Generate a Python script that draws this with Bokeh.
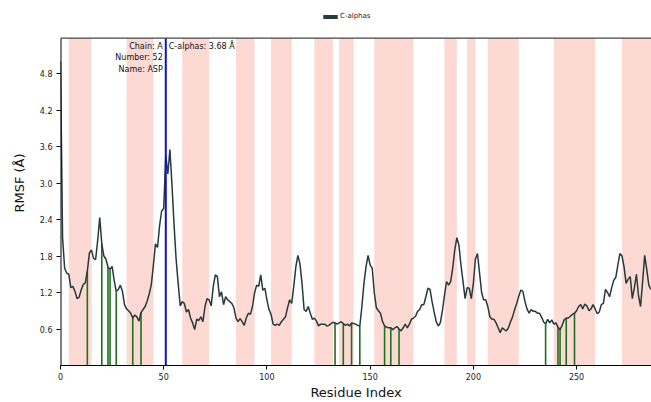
from bokeh.plotting import figure
from bokeh.models import (Range1d, FixedTicker, Label, Legend, LegendItem,
                          PrintfTickFormatter)
from bokeh.embed import file_html
from bokeh.resources import INLINE

# RMSF of C-alphas per residue index (Å)
rmsf = [
    5.0, 2.1, 1.6, 1.52, 1.5, 1.28, 1.3, 1.22, 1.1, 1.12,
    1.24, 1.33, 1.36, 1.55, 1.85, 1.9, 1.76, 1.74, 2.05, 2.43,
    2.0, 1.8, 1.75, 1.62, 1.58, 1.63, 1.4, 1.22, 1.25, 1.32,
    1.22, 1.0, 0.93, 0.9, 0.86, 0.78, 0.83, 0.8, 0.73, 0.87,
    0.92, 0.97, 1.06, 1.18, 1.33, 1.65, 2.0, 1.94, 2.3, 2.54,
    2.58, 3.45, 3.15, 3.55, 2.97, 2.32, 1.75, 1.35, 0.98, 1.05,
    1.02, 0.88, 0.92, 0.78, 0.70, 0.59, 0.76, 0.74, 0.8, 0.72,
    0.97, 1.1, 1.08, 0.98, 1.3, 1.49, 1.46, 1.13, 1.21, 1.0,
    1.13, 1.08, 1.05, 1.02, 0.95, 0.78, 0.72, 0.77, 0.72, 0.66,
    0.78, 0.86, 0.84, 0.97, 1.19, 1.32, 1.3, 1.49, 1.24, 1.27,
    1.08, 0.92, 0.84, 0.68, 0.66, 0.68, 0.66, 0.72, 0.76, 0.8,
    0.95, 1.08, 1.02, 1.3, 1.62, 1.81, 1.67, 1.35, 0.92, 0.89,
    0.97, 0.86, 0.76, 0.78, 0.73, 0.65, 0.68, 0.68, 0.68, 0.65,
    0.66, 0.69, 0.71, 0.7, 0.68, 0.7, 0.72, 0.69, 0.66, 0.68,
    0.65, 0.7, 0.69, 0.68, 0.66, 0.65, 0.97, 1.35, 1.62, 1.81,
    1.65, 1.6, 1.2, 0.95, 0.9, 0.86, 0.72, 0.65, 0.63, 0.62,
    0.62, 0.59, 0.62, 0.64, 0.6, 0.57, 0.62, 0.68, 0.62, 0.68,
    0.76, 0.78, 0.81, 0.89, 0.92, 1.0, 1.0, 1.13, 1.27, 1.25,
    1.05, 0.88, 0.72, 0.65, 0.7, 0.9, 1.15, 1.38, 1.32, 1.38,
    1.6, 1.9, 2.1, 1.98, 1.65, 1.38, 1.1, 1.28, 1.27, 1.1,
    1.35, 1.75, 1.84, 1.52, 1.2, 1.08, 1.08, 0.97, 0.8, 0.76,
    0.76, 0.7, 0.62, 0.54, 0.62, 0.59, 0.57, 0.62, 0.72, 0.8,
    0.92, 1.02, 1.14, 1.24, 1.22, 1.05, 0.93, 0.86, 0.92, 0.89,
    0.89, 0.86, 0.86, 0.8, 0.72, 0.68, 0.76, 0.7, 0.75, 0.68,
    0.7, 0.63, 0.59, 0.66, 0.75, 0.78, 0.78, 0.81, 0.84, 0.86,
    0.9, 0.97, 1.0, 0.93, 1.01, 0.98, 0.9, 0.93, 1.0, 0.93,
    0.85, 0.88, 1.0, 1.02, 1.25, 1.2, 1.13, 1.28, 1.4, 1.45,
    1.65, 1.84, 1.8, 1.62, 1.35, 1.42, 1.46, 1.1, 1.28, 1.5,
    1.15, 0.97, 1.38, 1.81, 1.58, 1.32, 1.25,
]
residue_index = list(range(len(rmsf)))

# shaded secondary-structure bands (residue index start, end)
band_start = [4, 32, 59, 85, 102, 123, 135, 152, 186, 197, 207, 239, 272]
band_end = [15, 45, 72, 94, 112, 132, 142, 171, 192, 201, 222, 259, 290]

# highlighted residues (green stems)
highlight_res = [13, 20, 23, 24, 27, 35, 39, 133, 137, 141, 145, 157, 160, 164,
                 235, 241, 242, 245, 249]

selected_index = 51
sel_chain, sel_number, sel_name, sel_value = "A", 52, "ASP", 3.68

y_ticks = [0.6, 1.2, 1.8, 2.4, 3.0, 3.6, 4.2, 4.8]
x_ticks = [0, 50, 100, 150, 200, 250]

X_END, Y_END = 286.3, 5.38      # axes box limits
Y_VIEW = 6.0                    # frame extends above the axes box (room for legend)
LINE_COLOR = "#26393d"
FONT = "DejaVu Sans"

p = figure(width=651, height=402, output_backend="svg", toolbar_location=None,
           x_range=Range1d(0, X_END), y_range=Range1d(0, Y_VIEW),
           min_border_left=60, min_border_right=0, min_border_top=0, min_border_bottom=32)
p.xgrid.visible = False
p.ygrid.visible = False
p.outline_line_color = None
p.background_fill_color = "white"
p.border_fill_color = "white"

p.quad(left=band_start, right=band_end, bottom=0, top=Y_END,
       fill_color="#fdd9d3", fill_alpha=1.0, line_color=None)

p.segment(x0=highlight_res, y0=[0] * len(highlight_res), x1=highlight_res,
          y1=[rmsf[i] for i in highlight_res], line_color="#1f6f1f", line_width=1.6)

p.line(residue_index, rmsf, line_color=LINE_COLOR, line_width=1.5)

p.segment(x0=[selected_index], y0=[0], x1=[selected_index], y1=[Y_END],
          line_color="#1010c8", line_width=2)

# axes box spines (left and top)
p.segment(x0=[0], y0=[0], x1=[0], y1=[Y_END], line_color="black", line_width=2)
p.segment(x0=[0], y0=[Y_END], x1=[X_END], y1=[Y_END], line_color="#444444", line_width=1.2)

p.add_layout(Label(x=selected_index, y=Y_END, x_offset=-3, y_offset=-4,
                   text=f"Chain: {sel_chain}\nNumber: {sel_number}\nName: {sel_name}",
                   text_align="right", text_baseline="top", text_font=FONT,
                   text_font_size="8px", text_line_height=1.25, text_color="#111111"))
p.add_layout(Label(x=selected_index, y=Y_END, x_offset=3, y_offset=-4,
                   text=f"C-alphas: {sel_value:.2f} Å",
                   text_align="left", text_baseline="top", text_font=FONT,
                   text_font_size="8px", text_color="#111111"))

for ax in (p.xaxis[0], p.yaxis[0]):
    ax.axis_line_color = "black"
    ax.axis_line_width = 1
    ax.major_tick_line_color = "black"
    ax.major_tick_out = 4
    ax.major_tick_in = 0
    ax.minor_tick_line_color = None
    ax.major_label_text_font = FONT
    ax.major_label_text_font_size = "8px"
    ax.major_label_text_color = "#222222"
    ax.axis_label_text_font = FONT
    ax.axis_label_text_font_size = "13px"
    ax.axis_label_text_font_style = "normal"
    ax.axis_label_text_color = "#111111"

p.yaxis[0].axis_line_color = None
p.xaxis[0].ticker = FixedTicker(ticks=x_ticks)
p.yaxis[0].ticker = FixedTicker(ticks=y_ticks)
p.yaxis[0].formatter = PrintfTickFormatter(format="%.1f")
p.xaxis[0].axis_label = "Residue Index"
p.yaxis[0].axis_label = "RMSF (Å)"
p.xaxis[0].major_label_standoff = 3
p.xaxis[0].axis_label_standoff = 2
p.yaxis[0].major_label_standoff = 4
p.yaxis[0].axis_label_standoff = 10

# legend proxy: zero-size rects on the data (invisible), whose fill gives the legend patch
leg_r = p.rect(x=residue_index, y=rmsf, width=0, height=0,
               fill_color=LINE_COLOR, line_color=None)
legend = Legend(items=[LegendItem(label="C-alphas", renderers=[leg_r])],
                location=(261, 345), orientation="horizontal",
                padding=0, margin=0, spacing=0, glyph_width=18, glyph_height=5,
                label_height=8, label_standoff=1, label_text_font_size="7px",
                label_text_font=FONT, label_text_color="#222222",
                border_line_color=None, background_fill_alpha=0)
p.add_layout(legend, "center")

open("out.html", "w").write(file_html(p, INLINE))
